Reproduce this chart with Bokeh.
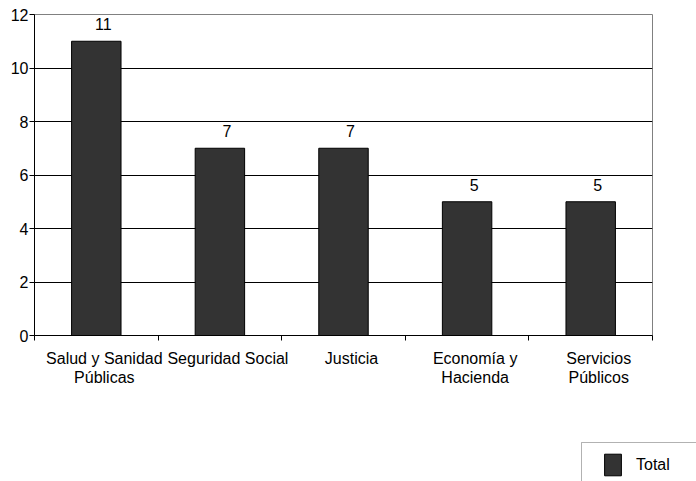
from bokeh.plotting import figure
from bokeh.layouts import column
from bokeh.models import (BoxAnnotation, ColumnDataSource, FixedTicker,
                          LabelSet, Legend, LegendItem)
from bokeh.core.properties import value
from bokeh.embed import file_html
from bokeh.resources import INLINE

# Data
categories = ["Salud y Sanidad\nPúblicas", "Seguridad Social", "Justicia",
              "Economía y\nHacienda", "Servicios\nPúblicos"]
totals = [11, 7, 7, 5, 5]
y_ticks = [0, 2, 4, 6, 8, 10, 12]
series_name = "Total"

FONT = "Liberation Sans"
FS = "16px"
BAR_FILL = "#333333"

centers = [i + 0.5 for i in range(len(categories))]
# category labels sit slightly right of the bar centres
label_pos = [c + 0.065 for c in centers]

source = ColumnDataSource(data=dict(
    x=centers,
    total=totals,
    label=[str(v) for v in totals],
))

p = figure(width=696, height=440, x_range=(0, len(categories)), y_range=(0, 12),
           output_backend="svg", toolbar_location=None,
           min_border_left=34, min_border_right=44,
           min_border_top=14, min_border_bottom=105)
p.frame_align = False
p.background_fill_color = "white"
p.border_fill_color = "white"
p.outline_line_color = "#808080"
p.outline_line_width = 1

bars = p.vbar(x="x", top="total", width=0.4, source=source,
              fill_color=BAR_FILL, line_color="black", line_width=1)

# Value labels above each bar
labels = LabelSet(x="x", y="total", text="label", source=source,
                  text_align="center", text_baseline="alphabetic",
                  x_offset=7, y_offset=11,
                  text_font=value(FONT), text_font_size=value(FS),
                  text_color="black")
p.add_layout(labels)

# Y axis
p.yaxis.ticker = FixedTicker(ticks=y_ticks)
p.yaxis.axis_line_color = "black"
p.yaxis.major_tick_line_color = "black"
p.yaxis.major_tick_out = 5
p.yaxis.major_tick_in = 0
p.yaxis.minor_tick_line_color = None
p.yaxis.major_label_standoff = 1
p.yaxis.major_label_text_font = FONT
p.yaxis.major_label_text_font_size = FS
p.yaxis.major_label_text_color = "black"

# X axis: labels near category centres, ticks at category boundaries
p.xaxis.ticker = FixedTicker(ticks=label_pos,
                             minor_ticks=list(range(len(categories) + 1)))
p.xaxis.major_label_overrides = {c: name for c, name in zip(label_pos, categories)}
p.xaxis.major_tick_out = 0
p.xaxis.major_tick_in = 0
p.xaxis.minor_tick_out = 5
p.xaxis.minor_tick_in = 0
p.xaxis.minor_tick_line_color = "black"
p.xaxis.axis_line_color = "black"
p.xaxis.major_label_standoff = 9
p.xaxis.major_label_text_font = FONT
p.xaxis.major_label_text_font_size = FS
p.xaxis.major_label_text_color = "black"
p.xaxis.major_label_text_line_height = 1.15

# Grid
p.xgrid.grid_line_color = None
p.ygrid.ticker = FixedTicker(ticks=y_ticks[1:-1])
p.ygrid.grid_line_color = "black"
p.ygrid.grid_line_width = 1

# Legend strip under the chart: no axes, so its frame fills the strip and
# one data unit equals one pixel
key = figure(width=696, height=41, x_range=(0, 696), y_range=(0, 41),
             output_backend="svg", toolbar_location=None,
             x_axis_location=None, y_axis_location=None,
             min_border=0, min_border_left=0, min_border_right=0,
             min_border_top=0, min_border_bottom=0,
             outline_line_color=None)
key.frame_align = False
key.grid.visible = False

# hidden copy of the bars, only used to draw the legend swatch
key_bar = key.vbar(x="x", top="total", width=0.4, source=source,
                   fill_color=BAR_FILL, line_color="black", line_width=1)
key_bar.visible = False

# legend frame, running off the right and bottom edges
key.add_layout(BoxAnnotation(left=581, right=900, top=39, bottom=-50,
                             fill_alpha=0, line_color="black", line_width=1))

legend = Legend(items=[LegendItem(label=series_name, renderers=[key_bar])],
                location=(602, 3), orientation="vertical",
                padding=0, margin=0, spacing=0,
                glyph_width=21, glyph_height=27, label_standoff=13,
                label_text_font=FONT, label_text_font_size=FS,
                label_text_color="black",
                inactive_fill_alpha=0,
                border_line_color=None, background_fill_alpha=0)
key.add_layout(legend, "center")

open("out.html", "w").write(file_html(column(p, key, spacing=0), INLINE))
